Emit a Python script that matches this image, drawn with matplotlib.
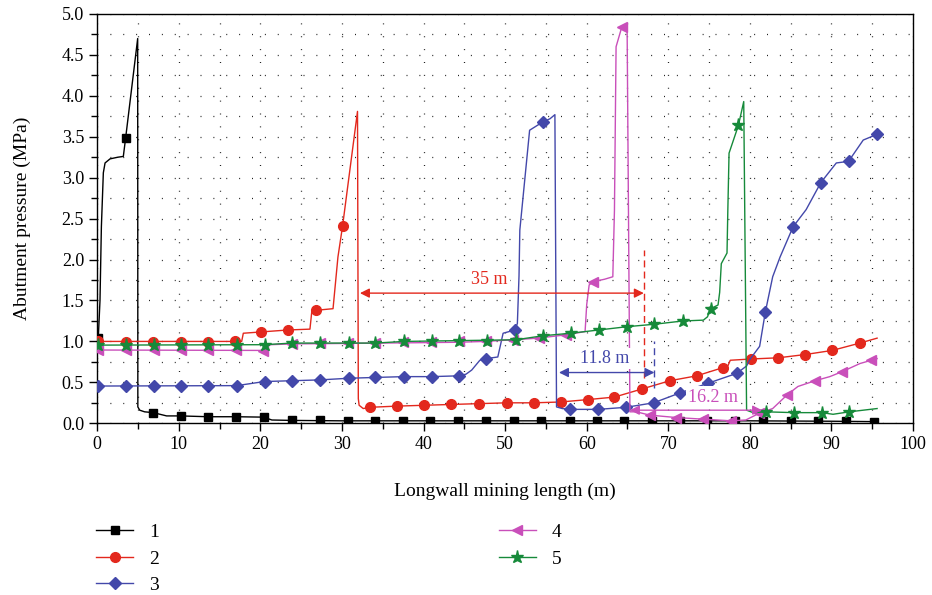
import matplotlib
matplotlib.use("Agg")
import matplotlib.pyplot as plt
from matplotlib.lines import Line2D
from matplotlib.ticker import MultipleLocator

plt.rcParams['font.family'] = ['Liberation Serif', 'DejaVu Serif']

# ---- data (x in m, y in MPa) ----
# curve 1 (black, squares)
x1 = [0.12, 0.33, 0.5, 0.74, 0.95, 1.56, 2.5, 3.19, 3.48, 4.95, 4.97, 5.2, 5.8, 6.86, 8.5,
      10.2, 13.6, 17.0, 20.4, 21.4, 23.9, 30, 40, 50, 60, 70, 80, 90, 95.6]
y1 = [1.04, 1.5, 2.4, 3.06, 3.18, 3.23, 3.25, 3.26, 3.49, 4.70, 0.2, 0.16, 0.14, 0.13, 0.09,
      0.09, 0.08, 0.08, 0.075, 0.04, 0.035, 0.03, 0.03, 0.03, 0.03, 0.03, 0.03, 0.025, 0.02]
m1x = [0.12, 3.48, 6.86, 10.2, 13.6, 17.0, 20.4, 23.9, 27.3, 30.7, 34.0, 37.5, 40.8, 44.2,
       47.7, 51.1, 54.4, 57.9, 61.3, 64.6, 68.0, 71.4, 74.8, 78.2, 81.6, 85.0, 88.4, 91.8, 95.2]
m1y = [1.04, 3.49, 0.13, 0.09, 0.08, 0.08, 0.075, 0.035, 0.035, 0.03, 0.03, 0.03, 0.03, 0.03,
       0.03, 0.03, 0.03, 0.03, 0.03, 0.03, 0.03, 0.03, 0.03, 0.03, 0.03, 0.03, 0.025, 0.025, 0.02]

# curve 2 (red, circles)
x2 = [0.12, 17.7, 17.9, 23.4, 26.07, 26.3, 26.8, 28.9, 29.5, 30.07, 31.9, 32.0, 32.1, 32.6,
      33.4, 36.8, 40.1, 43.4, 46.8, 50.2, 53.5, 56.8, 60.2, 63.4, 66.8, 70.2, 73.5, 76.7,
      77.3, 77.6, 80.1, 83.5, 86.8, 90.1, 93.5, 95.6]
y2 = [1.0, 1.0, 1.10, 1.14, 1.15, 1.37, 1.38, 1.40, 2.03, 2.41, 3.81, 0.3, 0.22, 0.18,
      0.195, 0.21, 0.22, 0.23, 0.24, 0.25, 0.25, 0.26, 0.29, 0.32, 0.42, 0.52, 0.58, 0.68,
      0.70, 0.77, 0.785, 0.80, 0.84, 0.89, 0.98, 1.04]
m2x = [0.12, 3.48, 6.86, 10.2, 13.6, 16.9, 20.1, 23.4, 26.8, 30.07, 33.4, 36.8, 40.1, 43.4,
       46.8, 50.2, 53.5, 56.8, 60.1, 63.4, 66.8, 70.2, 73.5, 76.7, 80.1, 83.5, 86.8, 90.1, 93.5]
m2y = [1.0, 0.99, 0.99, 0.99, 0.99, 1.0, 1.11, 1.14, 1.38, 2.41, 0.195, 0.21, 0.22, 0.23,
       0.24, 0.25, 0.25, 0.26, 0.29, 0.32, 0.42, 0.52, 0.58, 0.68, 0.785, 0.80, 0.84, 0.89, 0.98]

# curve 3 (blue, diamonds)
x3 = [0.12, 17.1, 20.5, 23.9, 27.3, 30.8, 34.1, 37.6, 41.0, 44.4, 45.2, 45.9, 46.9, 47.7,
      49.1, 49.75, 51.2, 51.5, 51.7, 51.8, 53.0, 54.6, 55.5, 56.1, 56.3, 57.0, 58.0, 61.4,
      64.8, 68.2, 71.4, 74.9, 78.4, 79.6, 80.0, 81.2, 81.9, 82.8, 83.7, 85.3, 86.9, 88.7,
      90.6, 92.1, 93.9, 95.6]
y3 = [0.455, 0.46, 0.51, 0.52, 0.53, 0.55, 0.56, 0.57, 0.57, 0.58, 0.60, 0.65, 0.77, 0.79,
      0.81, 1.10, 1.14, 1.22, 1.8, 2.36, 3.58, 3.68, 3.72, 3.77, 0.20, 0.18, 0.17, 0.17,
      0.195, 0.25, 0.37, 0.49, 0.61, 0.70, 0.78, 0.94, 1.36, 1.79, 2.03, 2.40, 2.61, 2.94,
      3.18, 3.20, 3.46, 3.53]
m3x = [0.12, 3.5, 6.9, 10.2, 13.6, 17.1, 20.5, 23.9, 27.3, 30.8, 34.1, 37.6, 41.0, 44.4,
       47.7, 51.2, 54.6, 58.0, 61.4, 64.8, 68.2, 71.4, 74.9, 78.4, 81.9, 85.3, 88.7, 92.1, 95.6]
m3y = [0.455, 0.455, 0.455, 0.455, 0.455, 0.46, 0.51, 0.52, 0.53, 0.55, 0.56, 0.57, 0.57,
       0.58, 0.79, 1.14, 3.68, 0.17, 0.17, 0.195, 0.25, 0.37, 0.49, 0.61, 1.36, 2.40, 2.94,
       3.20, 3.53]

# curve 4 (magenta, left triangles)
x4 = [0.12, 20.3, 21.2, 23.9, 30, 40, 44.4, 47.5, 51, 54.0, 57.4, 59.8, 60.0, 60.3, 60.8,
      62.2, 63.2, 63.4, 63.6, 64.3, 64.95, 65.3, 66.1, 67.7, 71.0, 74.3, 77.7, 79.5, 81.1,
      82.8, 84.6, 85.9, 88.0, 89.8, 91.3, 93.5, 94.9, 95.6]
y4 = [0.895, 0.89, 0.96, 0.97, 0.975, 0.985, 0.99, 1.0, 1.02, 1.04, 1.08, 1.12, 1.45, 1.69,
      1.73, 1.76, 1.79, 2.6, 4.60, 4.84, 4.87, 0.14, 0.14, 0.10, 0.07, 0.05, 0.03, 0.04,
      0.12, 0.18, 0.35, 0.45, 0.52, 0.57, 0.63, 0.73, 0.77, 0.79]
m4x = [0.12, 3.5, 6.9, 10.2, 13.6, 17.0, 20.3, 23.9, 27.3, 30.7, 34.1, 37.5, 40.9, 44.3,
       47.6, 51.0, 54.2, 57.5, 60.8, 64.3, 67.7, 71.0, 74.3, 77.7, 81.1, 84.6, 88.0, 91.3, 94.9]
m4y = [0.895, 0.895, 0.895, 0.895, 0.895, 0.895, 0.885, 0.97, 0.975, 0.98, 0.98, 0.99, 0.99,
       1.0, 1.0, 1.02, 1.04, 1.08, 1.73, 4.84, 0.10, 0.07, 0.05, 0.03, 0.12, 0.35, 0.52, 0.63,
       0.77]

# curve 5 (green, stars)
x5 = [0.12, 20.5, 23.9, 34.1, 37.6, 44.4, 51.3, 54.7, 58.05, 61.5, 64.95, 68.3, 71.8, 74.3,
      74.8, 75.2, 76.1, 76.3, 76.5, 77.2, 77.3, 77.45, 78.6, 79.25, 79.6, 80.4, 81.95, 85.4,
      88.8, 90.2, 92.2, 95.6]
y5 = [0.955, 0.96, 0.98, 0.98, 1.0, 1.01, 1.02, 1.07, 1.10, 1.14, 1.18, 1.21, 1.25, 1.26,
      1.30, 1.40, 1.445, 1.6, 1.95, 2.08, 2.6, 3.30, 3.64, 3.93, 0.16, 0.13, 0.14, 0.13,
      0.13, 0.11, 0.14, 0.18]
m5x = [0.12, 3.5, 6.9, 10.2, 13.6, 17.1, 20.5, 23.9, 27.3, 30.8, 34.1, 37.6, 41.0, 44.4,
       47.8, 51.3, 54.7, 58.05, 61.5, 64.95, 68.3, 71.8, 75.2, 78.6, 81.95, 85.4, 88.8, 92.2]
m5y = [0.955, 0.955, 0.955, 0.955, 0.955, 0.96, 0.96, 0.98, 0.98, 0.98, 0.98, 1.0, 1.0,
       1.01, 1.01, 1.02, 1.07, 1.10, 1.14, 1.18, 1.21, 1.25, 1.40, 3.64, 0.14, 0.13, 0.13, 0.14]

labels = ['1', '2', '3', '4', '5']
colors = ['#000000', '#e3281d', '#4348aa', '#c94fba', '#168a3a']
markers = ['s', 'o', 'D', '<', '*']
msizes = [6, 7, 6, 7.5, 9.5]

lines_x = [x1, x2, x3, x4, x5]
lines_y = [y1, y2, y3, y4, y5]
marks_x = [m1x, m2x, m3x, m4x, m5x]
marks_y = [m1y, m2y, m3y, m4y, m5y]

fig = plt.figure(figsize=(9.32, 5.95), dpi=100)
ax = fig.add_axes([0.1044, 0.2886, 0.8752, 0.6879])

handles = []
for i in range(5):
    ax.plot(lines_x[i], lines_y[i], color=colors[i], lw=1.0, zorder=3 + i)
    ax.plot(marks_x[i], marks_y[i], ls='none', marker=markers[i], ms=msizes[i],
            color=colors[i], mec=colors[i], zorder=3 + i)
    handles.append(Line2D([], [], color=colors[i], lw=1.0, marker=markers[i],
                          ms=msizes[i], mec=colors[i]))

# annotations
ax.plot([67.0, 67.0], [0.55, 2.12], color=colors[1], lw=1.0, ls=(0, (5, 3)), zorder=9)
ax.plot([68.3, 68.3], [0.43, 1.0], color=colors[2], lw=1.0, ls=(0, (5, 3)), zorder=9)

arrows = [(32.2, 67.0, 1.59, colors[1]), (56.6, 68.3, 0.62, colors[2]),
          (65.3, 81.5, 0.16, colors[3])]
for xa, xb, ya, c in arrows:
    ax.annotate('', xy=(xb, ya), xytext=(xa, ya),
                arrowprops=dict(arrowstyle='<|-|>', color=c, lw=1.0,
                                mutation_scale=14, shrinkA=0, shrinkB=0), zorder=10)

texts = [('35 m', 48.1, 1.76, colors[1]), ('11.8 m', 62.2, 0.79, colors[2]),
         ('16.2 m', 75.5, 0.32, colors[3])]
for s, tx, ty, c in texts:
    ax.text(tx, ty, s, color=c, fontsize=13, ha='center', va='center', zorder=11,
            bbox=dict(facecolor='white', edgecolor='none', pad=1.5))

ax.set_xlim(0, 100)
ax.set_ylim(0, 5.0)
ax.xaxis.set_major_locator(MultipleLocator(10))
ax.xaxis.set_minor_locator(MultipleLocator(5))
ax.yaxis.set_major_locator(MultipleLocator(0.5))
ax.yaxis.set_minor_locator(MultipleLocator(0.25))
ax.yaxis.set_major_formatter(plt.FormatStrFormatter('%.1f'))
ax.tick_params(which='major', direction='out', length=6, width=1, labelsize=13)
ax.tick_params(which='minor', direction='out', length=4, width=1)
ax.grid(True, which='both', color='#222222', lw=0.9, ls=(0, (0.8, 9.5)))
for sp in ax.spines.values():
    sp.set_linewidth(1.0)

ax.set_xlabel('Longwall mining length (m)', fontsize=14, labelpad=21)
ax.set_ylabel('Abutment pressure (MPa)', fontsize=14, labelpad=22)

fig.legend(handles, labels, loc='upper left', bbox_to_anchor=(0.095, 0.133),
           ncol=2, frameon=False, fontsize=14, handlelength=1.9, labelspacing=0.45,
           columnspacing=17.5, handletextpad=0.8, borderaxespad=0)

fig.savefig('out.png', dpi=100)
